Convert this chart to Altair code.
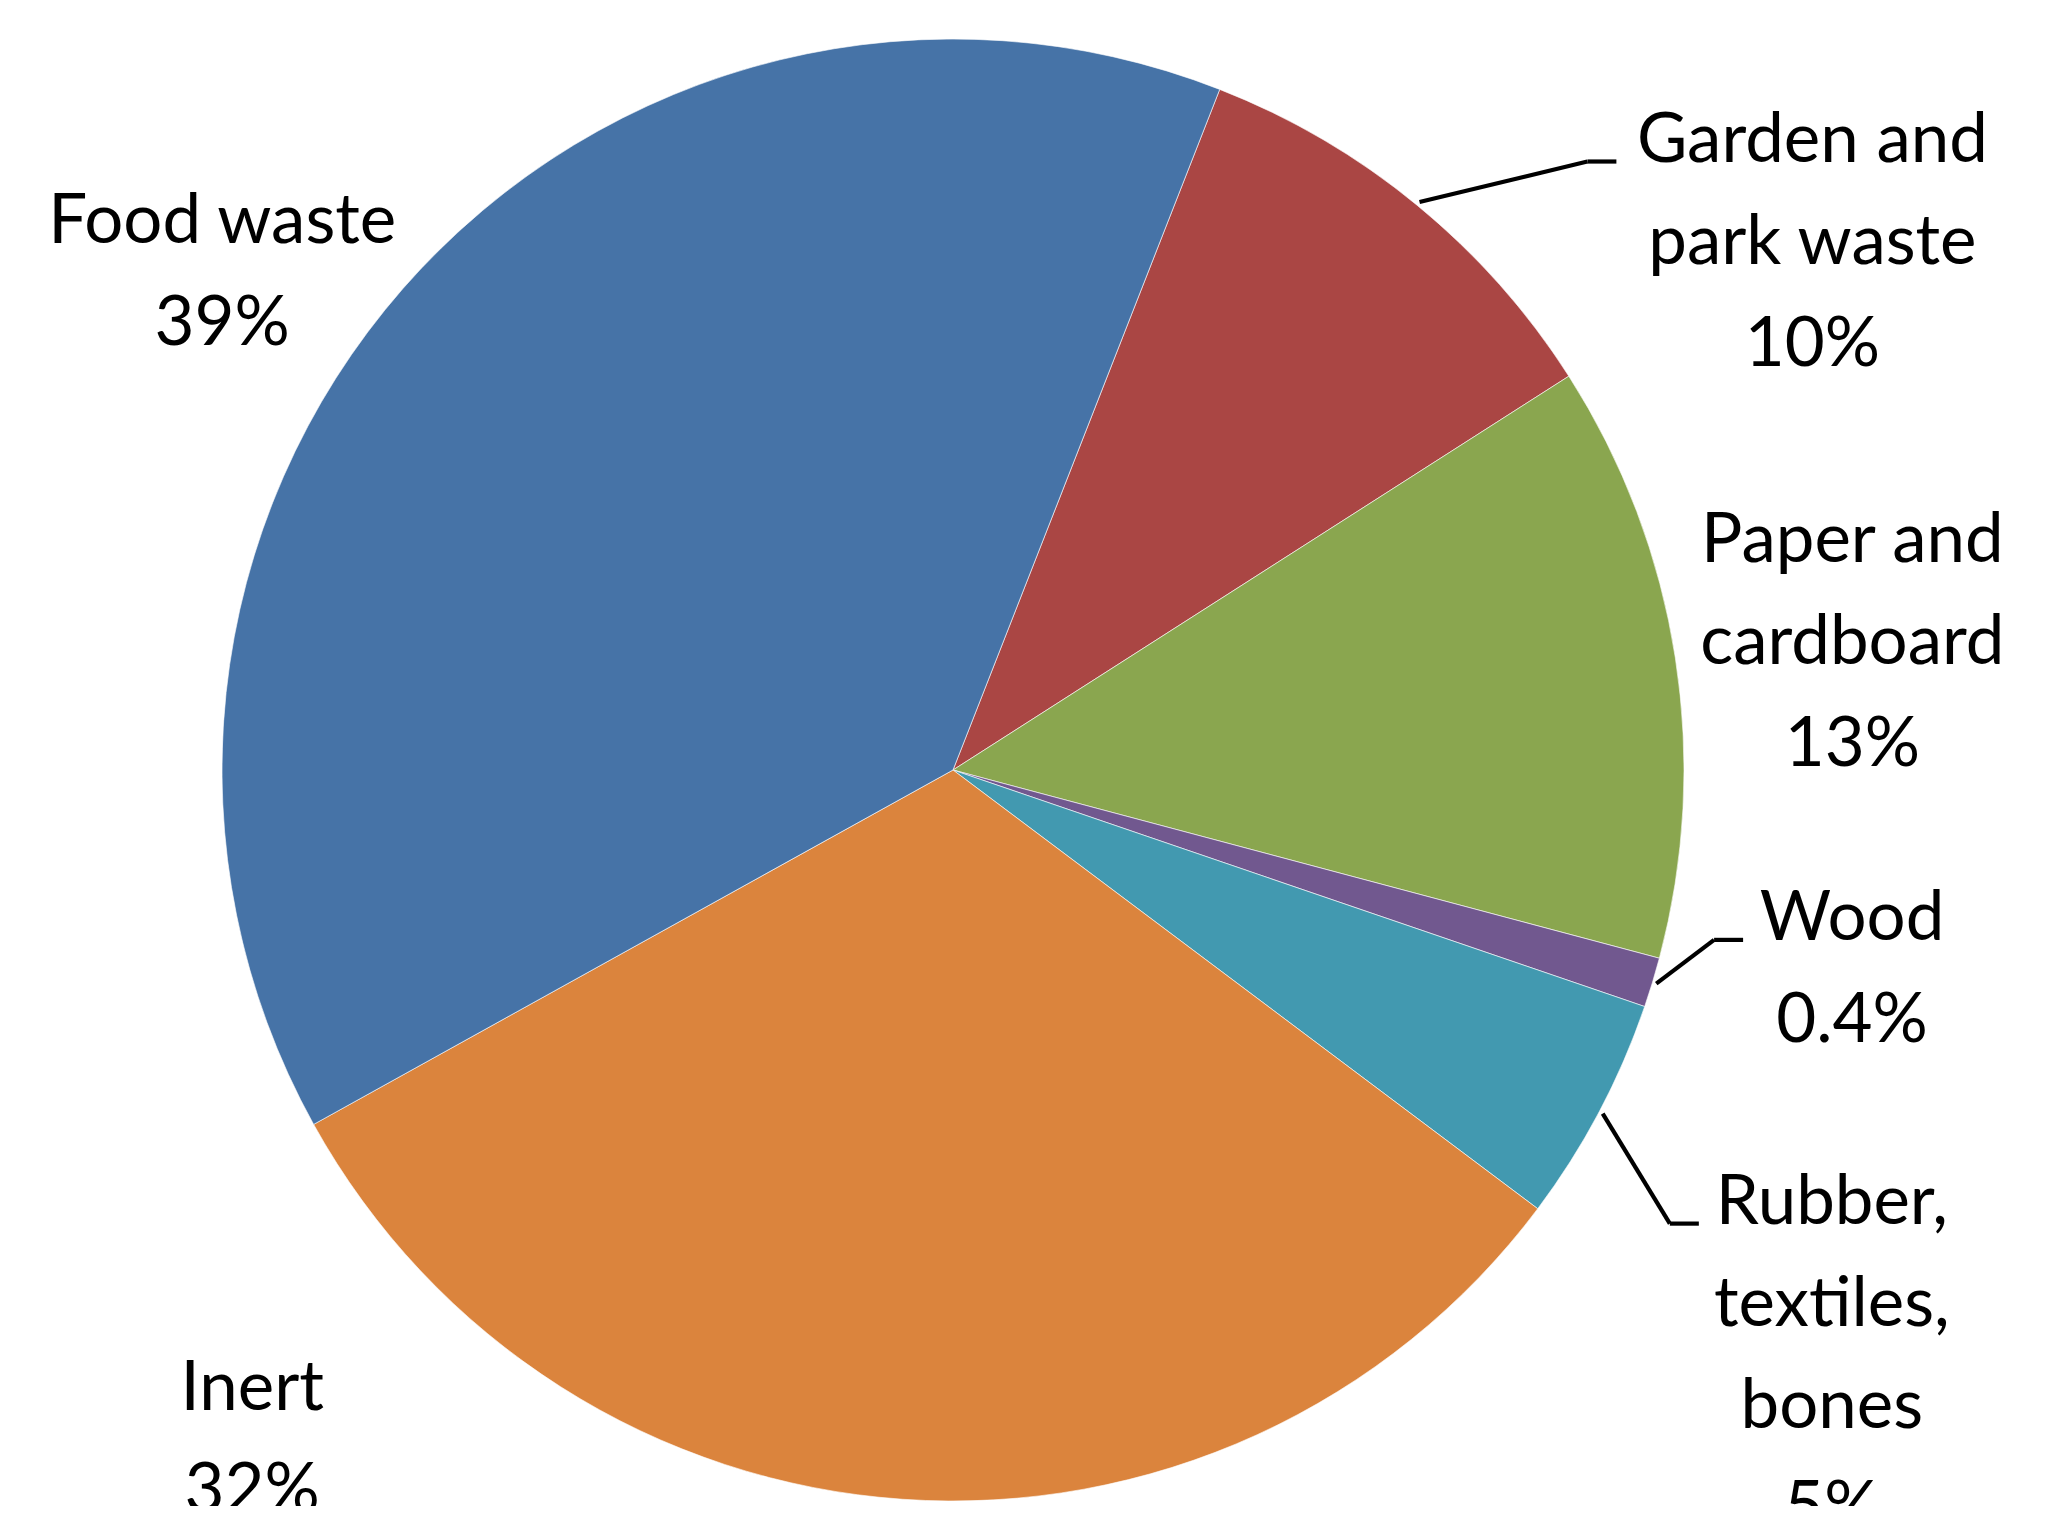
import math
import altair as alt
import pandas as pd

# ---- data ----
categories = ["Garden and park waste", "Paper and cardboard", "Wood",
              "Rubber, textiles, bones", "Inert", "Food waste"]
shares = [10.0, 13.2, 1.1, 5.0, 31.7, 39.0]          # slice sizes as drawn
name_text = ["Garden and\npark waste", "Paper and\ncardboard", "Wood",
             "Rubber,\ntextiles,\nbones", "Inert", "Food waste"]
pct_text = ["10%", "13%", "0.4%", "5%", "32%", "39%"]

# ---- style / layout ----
colors = ["#AA4644", "#8AA64F", "#71588F", "#4299B0", "#DB843D", "#4673A7"]
W, H = 2055, 1498
CX, CY, R = 945, 762, 731
START_DEG = 21.4
label_angle = [54.7, 77.0, 100.7, 117.3, 227.6, 305.8]   # polar placement of label
label_dist = [1053, 923, 915, 989, 949, 901]
leader_gap = [196, 0, 109, 133, 0, 0]                      # 0 = no leader line
ELBOW = 29
FONT = "Lato"

df = pd.DataFrame({
    "cat": categories,
    "share": shares,
    "label": [n + "\n" + p for n, p in zip(name_text, pct_text)],
    "ord": list(range(len(categories))),
    "langle": label_angle,
    "ldist": label_dist,
    "gap": leader_gap,
})

start = math.radians(START_DEG)
base = alt.Chart(df)

pie = base.mark_arc(radius=R, stroke="white", strokeWidth=0.6).encode(
    theta=alt.Theta("share:Q", stack=True,
                    scale=alt.Scale(domain=[0, 100], range=[start, start + 2 * math.pi])),
    color=alt.Color("cat:N", scale=alt.Scale(domain=categories, range=colors), legend=None),
    order=alt.Order("ord:Q", sort="ascending"),
    x=alt.value(CX),
    y=alt.value(CY),
)

pos = base.transform_window(
    cum="sum(share)", sort=[alt.SortField("ord")], frame=[None, 0]
).transform_calculate(
    mid=f"{start} + 2*PI*(datum.cum - datum.share/2)/100",
    la="datum.langle*PI/180",
    lx=f"{CX} + datum.ldist*sin(datum.la)",
    ly=f"{CY} - datum.ldist*cos(datum.la)",
    sx=f"{CX} + {R + 4}*sin(datum.mid)",
    sy=f"{CY} - {R + 4}*cos(datum.mid)",
    hx="datum.lx - datum.gap",
    ex=f"datum.lx - datum.gap - {ELBOW}",
)

labels = pos.mark_text(font=FONT, fontSize=69, lineBreak="\n", lineHeight=102,
                       align="center", baseline="alphabetic", color="black").encode(
    x=alt.X("lx:Q", scale=None, axis=None),
    y=alt.Y("ly:Q", scale=None, axis=None),
    text="label:N",
)

lead = pos.transform_filter("datum.gap > 0")
seg1 = lead.mark_rule(strokeWidth=4.2, color="black").encode(
    x=alt.X("sx:Q", scale=None, axis=None),
    y=alt.Y("sy:Q", scale=None, axis=None),
    x2="ex:Q", y2="ly:Q",
)
seg2 = lead.mark_rule(strokeWidth=4.2, color="black").encode(
    x=alt.X("ex:Q", scale=None, axis=None),
    y=alt.Y("ly:Q", scale=None, axis=None),
    x2="hx:Q", y2="ly:Q",
)

chart = alt.layer(pie, seg1, seg2, labels).properties(
    width=W, height=H, padding=0,
    autosize=alt.AutoSizeParams(type="none"),
    background="white",
).configure_view(stroke=None)

chart.save("out.html", embed_options={"renderer": "svg", "actions": False})
